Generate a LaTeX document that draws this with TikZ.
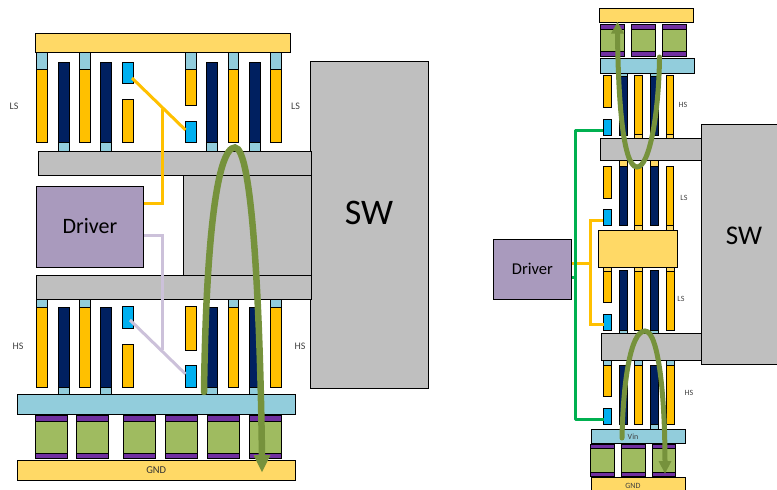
\documentclass[tikz,border=0pt]{standalone}
\usepackage{fontspec}
\setmainfont{Carlito}
\usetikzlibrary{arrows.meta}
\definecolor{cYel}{HTML}{FFD966}
\definecolor{cOr}{HTML}{FFC000}
\definecolor{cNavy}{HTML}{002060}
\definecolor{cLb}{HTML}{92CDDC}
\definecolor{cCy}{HTML}{00B0F0}
\definecolor{cGr}{HTML}{BFBFBF}
\definecolor{cPu}{HTML}{7030A0}
\definecolor{cCap}{HTML}{9FBB60}
\definecolor{cDrv}{HTML}{A99ABD}
\definecolor{cArc}{HTML}{76923C}
\definecolor{cLil}{HTML}{CCC1DA}
\definecolor{cLine}{HTML}{00B050}
\tikzset{
  part/.style={draw=black,line width=0.85pt,inner sep=0pt,outer sep=0pt,text=black!80},
  yel/.style={part,fill=cYel}, orng/.style={part,fill=cOr}, navy/.style={part,fill=cNavy},
  lb/.style={part,fill=cLb}, cyanb/.style={part,fill=cCy}, gray/.style={part,fill=cGr},
  pur/.style={part,fill=cPu}, capb/.style={part,fill=cCap}, drv/.style={part,fill=cDrv,text=black},
  lab/.style={inner sep=0pt,text=black!75,font=\fontsize{10}{12}\selectfont},
  labs/.style={inner sep=0pt,text=black!75,font=\fontsize{8}{10}\selectfont},
  bigt/.style={inner sep=0pt,text=black},
  orline/.style={draw=cOr,line width=3pt},
  lilline/.style={draw=cLil,line width=3pt},
  grline/.style={draw=cLine,line width=3pt,line join=round},
  arcbig/.style={draw=cArc,line width=6.5pt,line cap=round},
  arcsm/.style={draw=cArc,line width=5pt,line cap=round}
}
% style, name, x1, y1, x2, y2, text
\newcommand{\rb}[7]{%
  \pgfmathsetmacro{\rw}{#5-#3}\pgfmathsetmacro{\rh}{#6-#4}%
  \pgfmathsetmacro{\rx}{(#3+#5)/2}\pgfmathsetmacro{\ry}{(#4+#6)/2}%
  \node[#1,minimum width=\rw pt,minimum height=\rh pt] (#2) at (\rx,\ry) {#7};}
\begin{document}
\begin{tikzpicture}[x=1pt,y=-1pt]
\useasboundingbox (0,0) rectangle (777,490);
%% ===== left panel
\rb{gray}{swL}{310.5}{61}{428}{388}{}
\node[bigt,font=\fontsize{36}{40}\selectfont] (swLt) at (369,213) {SW};
\rb{gray}{gLow}{183.5}{175}{311}{275.5}{}
\rb{gray}{gA}{38.5}{151.5}{311}{175}{}
\rb{gray}{gB}{36.5}{275.5}{311}{299}{}
\rb{yel}{topL}{35}{33}{290}{52}{}
\rb{drv}{drvL}{36.5}{186}{143.5}{267}{\fontsize{22}{24}\selectfont Driver}
% LS devices
\foreach \a/\b [count=\i] in {36.5/47.5,79/90,228/238.5,270.5/281}{
  \rb{lb}{lsS\i}{\a}{52}{\b}{69}{}
  \rb{orng}{lsO\i}{\a}{69}{\b}{142}{}
}
\foreach \a/\b [count=\i] in {58/69,100.5/111,206/217,249/260}{
  \rb{navy}{lsN\i}{\a}{62}{\b}{142}{}
  \rb{lb}{lsT\i}{\a}{142}{\b}{151.5}{}
}
\rb{cyanb}{cyA}{122}{62}{133}{83.5}{}
\rb{orng}{lsP}{122}{99.5}{133}{142}{}
\rb{lb}{lsU}{185.5}{52}{196}{69}{}
\rb{orng}{lsQ}{185.5}{69}{196}{105}{}
\rb{cyanb}{cyB}{185.5}{121}{196}{142}{}
% HS devices
\foreach \a/\b [count=\i] in {36.5/47.5,79/90,228/238.5,270.5/281}{
  \rb{lb}{hsS\i}{\a}{299}{\b}{307}{}
  \rb{orng}{hsO\i}{\a}{307}{\b}{387}{}
}
\foreach \a/\b [count=\i] in {58/69,100.5/111,206/217,249/260}{
  \rb{navy}{hsN\i}{\a}{307}{\b}{387}{}
  \rb{lb}{hsT\i}{\a}{387}{\b}{394.5}{}
}
\rb{cyanb}{cyC}{122}{306.5}{133}{328}{}
\rb{orng}{hsP}{122}{344}{133}{387}{}
\rb{orng}{hsQ}{185.5}{306.5}{196}{350}{}
\rb{cyanb}{cyD}{185.5}{365.5}{196}{387}{}
\rb{lb}{vinL}{17.5}{394.5}{295}{414}{}
\foreach \a/\b [count=\i] in {35/67,76/108,123.5/155.5,165.5/197.5,207/239.5,249/281.5}{
  \rb{capb}{cL\i}{\a}{421.5}{\b}{453}{}
  \rb{pur}{cLt\i}{\a}{415.5}{\b}{421.5}{}
  \rb{pur}{cLb\i}{\a}{453}{\b}{458.5}{}
}
\rb{yel}{gndL}{17.5}{460.5}{295}{480}{\fontsize{10.5}{12}\selectfont GND}
\node[lab] (t1) at (14,106) {LS};
\node[lab] (t2) at (295.5,106) {LS};
\node[lab] (t3) at (18,346) {HS};
\node[lab] (t4) at (300,346) {HS};
% left connectors
\coordinate (jA) at (162,108.5);
\coordinate (jB) at (162.5,350);
\coordinate (drvLo) at (143.5,203);
\coordinate (drvLl) at (143.5,235);
\coordinate (cyAp) at (132,78);
\coordinate (cyBp) at (185.5,130);
\coordinate (cyCp) at (130,320);
\coordinate (cyDp) at (185.5,374);
\draw[orline] (cyAp) -- (cyBp);
\draw[orline] (jA) -- (drvLo -| jA) -- (drvLo);
\draw[lilline] (cyCp) -- (cyDp);
\draw[lilline] (jB) -- (drvLl -| jB) -- (drvLl);
% left arc
\coordinate (arcLs) at (204,392);
\coordinate (arcLp) at (235,147.5);
\coordinate (arcLe) at (262,458);
\draw[arcbig] (arcLs) .. controls (206,240) and (217,147.5) .. (arcLp) .. controls (252,147.5) and (260,300) .. (arcLe);
\fill[cArc] (253.5,455) -- (270.5,455) -- (262,472) -- cycle;
%% ===== right panel
\rb{gray}{swR}{701}{124}{780}{364}{}
\node[bigt,font=\fontsize{27}{30}\selectfont] (swRt) at (744,236) {SW};
\rb{yel}{topR}{599}{8}{693}{22.5}{}
\foreach \a/\b [count=\i] in {600.5/624.5,631/655,662/686}{
  \rb{capb}{cR\i}{\a}{29}{\b}{51.5}{}
  \rb{pur}{cRt\i}{\a}{24}{\b}{29}{}
  \rb{pur}{cRb\i}{\a}{51.5}{\b}{56}{}
}
\rb{lb}{lbR}{600.5}{58.5}{694.5}{73}{}
% row 1
\foreach \a/\b [count=\i] in {619/627,650/658}{
  \rb{lb}{r1T\i}{\a}{73}{\b}{76}{}
  \rb{navy}{r1N\i}{\a}{76}{\b}{135}{}
}
\rb{orng}{r1P}{603}{75.5}{611}{107.5}{}
\rb{cyanb}{cyE}{603}{119}{611}{135}{}
\foreach \a/\b [count=\i] in {634.5/642,666/673.5}{
  \rb{orng}{r1O\i}{\a}{75.5}{\b}{134}{}
  \rb{yel}{r1S\i}{\a}{134}{\b}{138}{}
}
\rb{gray}{gC}{600.5}{138}{701}{160}{}
% row 2
\foreach \a/\b [count=\i] in {619/627,650/658}{
  \rb{yel}{r2T\i}{\a}{160}{\b}{166.5}{}
  \rb{navy}{r2N\i}{\a}{166.5}{\b}{225}{}
}
\rb{orng}{r2P}{603}{166}{611}{198}{}
\rb{cyanb}{cyF}{603}{209.5}{611}{225.5}{}
\foreach \a/\b [count=\i] in {634.5/642,666/673.5}{
  \rb{orng}{r2O\i}{\a}{166}{\b}{225}{}
  \rb{yel}{r2S\i}{\a}{225}{\b}{230}{}
}
\rb{yel}{midR}{598.5}{230}{677.5}{267.5}{}
% row 3
\foreach \a/\b [count=\i] in {634.5/642.5,666/674}{
  \rb{yel}{r3S\i}{\a}{267.5}{\b}{271}{}
  \rb{orng}{r3O\i}{\a}{271}{\b}{330}{}
}
\rb{yel}{r3U}{603.5}{267.5}{611.5}{271}{}
\rb{orng}{r3P}{603.5}{271}{611.5}{302}{}
\rb{cyanb}{cyG}{603.5}{314}{611.5}{330}{}
\foreach \a/\b [count=\i] in {619/627.5,650.5/658.5}{
  \rb{navy}{r3N\i}{\a}{270}{\b}{330}{}
  \rb{lb}{r3T\i}{\a}{330}{\b}{333}{}
}
\rb{gray}{gD}{601.5}{333}{701}{360}{}
% row 4
\foreach \a/\b [count=\i] in {634.5/642.5,666/674}{
  \rb{lb}{r4S\i}{\a}{360}{\b}{365}{}
  \rb{orng}{r4O\i}{\a}{365}{\b}{424}{}
}
\rb{lb}{r4U}{603.5}{360}{611.5}{365}{}
\rb{orng}{r4P}{603.5}{365}{611.5}{396.5}{}
\rb{cyanb}{cyH}{603.5}{408.5}{611.5}{424}{}
\rb{navy}{r4N1}{619}{365}{627.5}{424}{}
\rb{navy}{r4N2}{650.5}{365}{658.5}{424}{}
\rb{lb}{r4T}{650.5}{424}{658.5}{429}{}
\rb{lb}{vinR}{591.5}{429}{685.5}{443.5}{}
\node[labs] (t9) at (633,436.5) {Vin};
\foreach \a/\b [count=\i] in {590.5/614,621.5/645,652/675.5}{
  \rb{capb}{dR\i}{\a}{448.5}{\b}{472}{}
  \rb{pur}{dRt\i}{\a}{444}{\b}{448.5}{}
  \rb{pur}{dRb\i}{\a}{472}{\b}{476}{}
}
\rb{yel}{gndR}{591.5}{477.5}{685.5}{492}{}
\node[labs] (t10) at (633,485.5) {GND};
\rb{drv}{drvR}{493}{239}{571.7}{299}{\fontsize{16.5}{18}\selectfont Driver}
\node[labs] (t5) at (683,104.5) {HS};
\node[labs] (t6) at (684,198) {LS};
\node[labs] (t7) at (681,299) {LS};
\node[labs] (t8) at (689,393) {HS};
% right connectors
\coordinate (orX) at (590.7,263);
\coordinate (drvRo) at (571.7,263);
\coordinate (drvRg) at (571.7,277);
\coordinate (grX) at (575,277);
\draw[orline] (drvRo) -- (orX);
\draw[orline] (cyF.west |- 0,220) -- (orX |- 0,220) -- (orX |- 0,324) -- (cyG.west |- 0,324);
\draw[grline] (drvRg) -- (grX);
\draw[grline] (cyE.west |- 0,130) -- (grX |- 0,130) -- (grX |- 0,419) -- (cyH.west |- 0,419);
% right arcs
\coordinate (arcAs) at (659.5,57);
\coordinate (arcAb) at (637,167);
\coordinate (arcAe) at (617.5,32);
\draw[arcsm] (arcAs) .. controls (659,110) and (650,167) .. (arcAb) .. controls (622,167) and (618,90) .. (arcAe);
\fill[cArc] (611,33.5) -- (624,33.5) -- (617.5,22) -- cycle;
\coordinate (arcBs) at (622,438);
\coordinate (arcBp) at (645,331);
\coordinate (arcBe) at (665,462);
\draw[arcsm] (arcBs) .. controls (623,385) and (630,331) .. (arcBp) .. controls (659,331) and (665,400) .. (arcBe);
\fill[cArc] (658.5,461) -- (671.5,461) -- (665,473.5) -- cycle;
\end{tikzpicture}
\end{document}
